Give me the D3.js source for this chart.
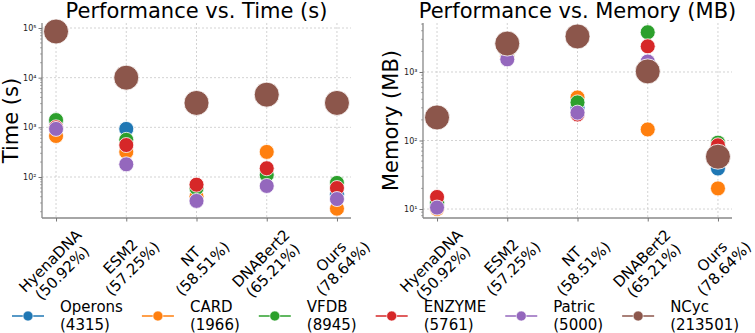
<!DOCTYPE html>
<html>
<head>
<meta charset="utf-8">
<script src="https://cdn.jsdelivr.net/npm/d3@7"></script>
<style>
  body { margin: 0; background: #fff; }
  text { font-family: "DejaVu Sans", sans-serif; fill: #000; }
</style>
</head>
<body>
<div id="chart"></div>
<script>
const width = 755;
const height = 333;

const models = ['HyenaDNA', 'ESM2', 'NT', 'DNABert2', 'Ours'];
const accuracy = ['(50.92%)', '(57.25%)', '(58.51%)', '(65.21%)', '(78.64%)'];

const datasets = ['Operons', 'CARD', 'VFDB', 'ENZYME', 'Patric', 'NCyc'];
const datasetCounts = ['(4315)', '(1966)', '(8945)', '(5761)', '(5000)', '(213501)'];
const colors = ['#1f77b4', '#ff7f0e', '#2ca02c', '#d62728', '#9467bd', '#8c564b'];

// time in seconds, one array per dataset, in model order
const timeOperons = [1300, 930, 60, 110, 45];
const timeCARD = [670, 320, 40, 320, 23];
const timeVFDB = [1400, 560, 60, 110, 76];
const timeENZYME = [1000, 440, 70, 150, 60];
const timePatric = [930, 180, 33, 66, 36];
const timeNCyc = [85000, 10000, 3100, 4550, 3100];

// memory in MB
const memOperons = [12, 1800, 300, 1100, 39];
const memCARD = [10, 1700, 425, 145, 20];
const memVFDB = [12.5, 1900, 360, 3800, 93];
const memENZYME = [15, 2000, 240, 2370, 85];
const memPatric = [10.5, 1530, 255, 1420, 65];
const memNCyc = [217, 2600, 3300, 1020, 58];

const timeTicks = [1e2, 1e3, 1e4, 1e5];
const memTicks = [1e1, 1e2, 1e3];

const timeSeries = [timeOperons, timeCARD, timeVFDB, timeENZYME, timePatric, timeNCyc];
const memSeries = [memOperons, memCARD, memVFDB, memENZYME, memPatric, memNCyc];

const svg = d3.select('#chart').append('svg')
  .attr('width', width).attr('height', height);

const panels = [
  { title: 'Performance vs. Time (s)', ylabel: 'Time (s)', series: timeSeries, ticks: timeTicks,
    left: 42, right: 351, domain: [Math.pow(10, 1.1745), Math.pow(10, 5.1007)], ylabelX: 18 },
  { title: 'Performance vs. Memory (MB)', ylabel: 'Memory (MB)', series: memSeries, ticks: memTicks,
    left: 423, right: 732, domain: [Math.pow(10, 0.869), Math.pow(10, 3.715)], ylabelX: 398 }
];
const plotTop = 23, plotBottom = 218;

const supDigits = {'0':'⁰','1':'¹','2':'²','3':'³','4':'⁴','5':'⁵','6':'⁶','7':'⁷','8':'⁸','9':'⁹'};

function drawPanel(p) {
  const x = d3.scaleLinear().domain([-0.2, models.length - 0.8]).range([p.left, p.right]);
  const y = d3.scaleLog().domain(p.domain).range([plotBottom, plotTop]);
  const g = svg.append('g');

  // grid
  g.selectAll('.vgrid').data(models).enter().append('line')
    .attr('x1', (d, i) => x(i)).attr('x2', (d, i) => x(i))
    .attr('y1', plotTop).attr('y2', plotBottom)
    .style('stroke', '#c8c8c8').style('stroke-width', 0.8).style('stroke-dasharray', '2,2');
  g.selectAll('.hgrid').data(p.ticks).enter().append('line')
    .attr('x1', p.left).attr('x2', p.right)
    .attr('y1', d => y(d)).attr('y2', d => y(d))
    .style('stroke', '#c8c8c8').style('stroke-width', 0.8).style('stroke-dasharray', '2,2');

  // y axis with log minor ticks
  const yAxis = d3.axisLeft(y).tickValues(p.ticks).tickSize(3.5).tickPadding(2)
    .tickFormat(d => '10' + String(Math.round(Math.log10(d))).split('').map(c => supDigits[c]).join(''));
  const ya = g.append('g').attr('transform', 'translate(' + p.left + ',0)').call(yAxis);
  const minor = [];
  const lo = Math.floor(Math.log10(p.domain[0])), hi = Math.ceil(Math.log10(p.domain[1]));
  for (let e = lo; e < hi; e++) {
    for (let m = 2; m < 10; m++) {
      const v = m * Math.pow(10, e);
      if (v >= p.domain[0] && v <= p.domain[1]) minor.push(v);
    }
  }
  ya.selectAll('.minor').data(minor).enter().append('line')
    .attr('x1', 0).attr('x2', -2).attr('y1', d => y(d)).attr('y2', d => y(d))
    .style('stroke', '#777').style('stroke-width', 0.6);
  ya.select('.domain').attr('d', 'M0,' + plotTop + 'V' + plotBottom).style('stroke', '#888').style('stroke-width', 1.3);
  ya.selectAll('.tick line').style('stroke', '#777');
  ya.selectAll('.tick text').style('font-size', '8px').style('fill', '#222');

  // x axis
  const xa = g.append('g').attr('transform', 'translate(0,' + plotBottom + ')')
    .call(d3.axisBottom(x).tickValues(d3.range(models.length)).tickSize(3.5).tickFormat(''));
  xa.select('.domain').attr('d', 'M' + p.left + ',0H' + p.right).style('stroke', '#888').style('stroke-width', 1.3);
  xa.selectAll('.tick line').style('stroke', '#777');

  // rotated two-line tick labels
  models.forEach((m, i) => {
    const lg = g.append('g');
    const t = lg.append('text').attr('text-anchor', 'middle').style('font-size', '15px');
    const l1 = t.append('tspan').attr('x', 0).attr('y', -3).text(m);
    const l2 = t.append('tspan').attr('x', 0).attr('y', 14).text(accuracy[i]);
    const w = Math.max(l1.node().getComputedTextLength(), l2.node().getComputedTextLength());
    const h = 34;
    const cy = 226 + (w + h) / (2 * Math.SQRT2);
    lg.attr('transform', 'translate(' + x(i) + ',' + cy + ') rotate(-45)');
  });

  // points
  p.series.forEach((vals, si) => {
    g.selectAll('.pt' + si).data(vals).enter().append('circle')
      .attr('cx', (d, i) => x(i)).attr('cy', d => y(d))
      .attr('r', si === 5 ? 12.5 : 7.5)
      .style('fill', colors[si]).style('stroke', '#fff').style('stroke-width', 0.8);
  });

  // title & y label
  svg.append('text').attr('x', (p.left + p.right) / 2).attr('y', 18)
    .attr('text-anchor', 'middle').style('font-size', '21px').text(p.title);
  svg.append('text').attr('transform', 'translate(' + p.ylabelX + ',' + ((plotTop + plotBottom) / 2) + ') rotate(-90)')
    .attr('text-anchor', 'middle').style('font-size', '21px').text(p.ylabel);
}

panels.forEach(drawPanel);

// legend along the bottom
const legend = svg.append('g');
let lx = 12;
const ly = 316;
datasets.forEach((name, i) => {
  legend.append('line').attr('x1', lx).attr('x2', lx + 32).attr('y1', ly).attr('y2', ly)
    .style('stroke', colors[i]).style('stroke-width', 1.5);
  legend.append('circle').attr('cx', lx + 16).attr('cy', ly).attr('r', 5)
    .style('fill', colors[i]).style('stroke', '#fff').style('stroke-width', 0.6);
  const a = legend.append('text').attr('x', lx + 48).attr('y', 311.5).style('font-size', '15px').text(name);
  const b = legend.append('text').attr('x', lx + 48).attr('y', 329.5).style('font-size', '15px').text(datasetCounts[i]);
  const w = Math.max(a.node().getComputedTextLength(), b.node().getComputedTextLength());
  lx = lx + 48 + w + 19;
});
</script>
</body>
</html>
